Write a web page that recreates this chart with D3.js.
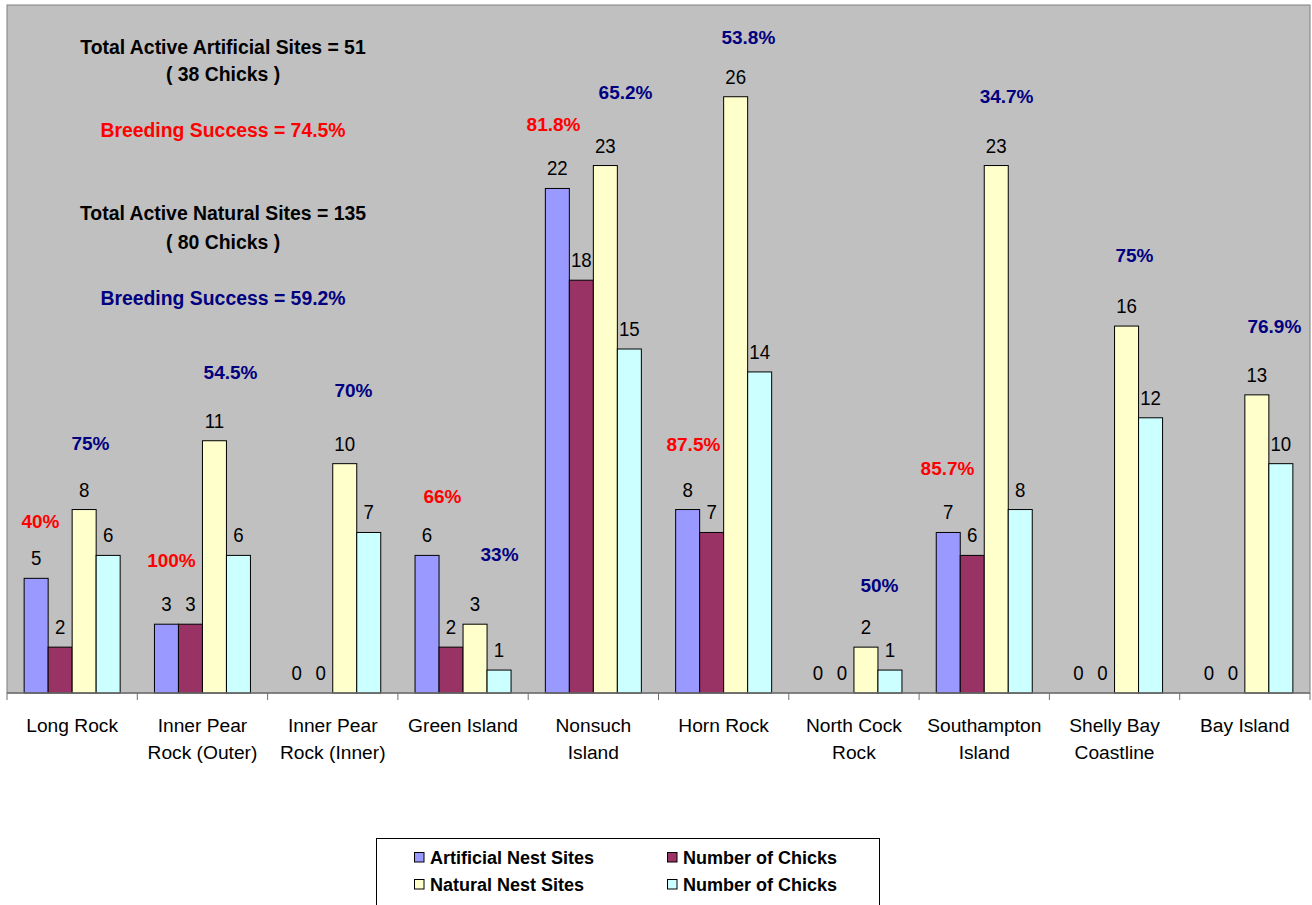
<!DOCTYPE html>
<html>
<head>
<meta charset="utf-8">
<script src="https://cdn.jsdelivr.net/npm/d3@7"></script>
<style>
  html, body { margin: 0; padding: 0; background: #ffffff; }
  svg { display: block; font-family: Arial, "Liberation Sans", sans-serif; }
</style>
</head>
<body>
<svg id="chart" width="1312" height="905"></svg>
<script>
// ---------- data ----------
const categories = [
  ["Long Rock"],
  ["Inner Pear", "Rock (Outer)"],
  ["Inner Pear", "Rock (Inner)"],
  ["Green Island"],
  ["Nonsuch", "Island"],
  ["Horn Rock"],
  ["North Cock", "Rock"],
  ["Southampton", "Island"],
  ["Shelly Bay", "Coastline"],
  ["Bay Island"]
];
const seriesNames = ["Artificial Nest Sites", "Number of Chicks", "Natural Nest Sites", "Number of Chicks"];
const artificialSites = [5, 3, 0, 6, 22, 8, 0, 7, 0, 0];
const artificialChicks = [2, 3, 0, 2, 18, 7, 0, 6, 0, 0];
const naturalSites = [8, 11, 10, 3, 23, 26, 2, 23, 16, 13];
const naturalChicks = [6, 6, 7, 1, 15, 14, 1, 8, 12, 10];
const yMax = 30;

// breeding-success annotations: category index, series slot (bar units), value level, text, group
const pctCategory = [0, 0, 1, 1, 2, 3, 3, 4, 4, 5, 5, 6, 7, 7, 8, 9];
const pctSlot     = [0.18, 2.26, 0.21, 2.67, 2.36, 0.64, 3.02, -0.16, 2.84, 0.24, 2.53, 2.56, -0.03, 2.43, 2.33, 2.73];
const pctLevel    = [7.5, 10.9, 5.8, 14.0, 13.2, 8.6, 6.05, 24.8, 26.2, 10.85, 28.6, 4.7, 9.8, 26.05, 19.1, 16.0];
const pctText     = ["40%", "75%", "100%", "54.5%", "70%", "66%", "33%", "81.8%", "65.2%", "87.5%", "53.8%", "50%", "85.7%", "34.7%", "75%", "76.9%"];
const pctGroup    = ["a", "n", "a", "n", "n", "a", "n", "a", "n", "a", "n", "n", "a", "n", "n", "n"];

const summaryLines = [
  "Total Active Artificial Sites = 51",
  "( 38 Chicks )",
  "Breeding Success = 74.5%",
  "Total Active Natural Sites = 135",
  "( 80 Chicks )",
  "Breeding Success = 59.2%"
];
const summaryGroup = ["k", "k", "a", "k", "k", "n"];

// ---------- styles ----------
const barColors = ["#9999FF", "#993366", "#FFFFCC", "#CCFFFF"];
const groupColor = { a: "#FF0000", n: "#000080", k: "#000000" };

// ---------- layout ----------
const plot = { left: 7, right: 1310, top: 5, bottom: 693 };
const svg = d3.select("#chart");
svg.append("rect").attr("width", 1312).attr("height", 905).attr("fill", "#ffffff");

const x = d3.scaleBand().domain(d3.range(categories.length)).range([plot.left, plot.right]).paddingInner(0).paddingOuter(0);
const bw = x.bandwidth();
const barW = bw * 0.1842;
const groupOff = (bw - 4 * barW) / 2;
const xs = d3.scaleBand().domain(d3.range(4)).range([groupOff, groupOff + 4 * barW]).padding(0);
const y = d3.scaleLinear().domain([0, yMax]).range([plot.bottom, plot.top]);
const slotX = (ci, s) => x(ci) + groupOff + barW * (s + 0.5);

// plot area
svg.append("rect")
  .attr("x", plot.left).attr("y", plot.top)
  .attr("width", plot.right - plot.left).attr("height", plot.bottom - plot.top)
  .attr("fill", "#C0C0C0").attr("stroke", "#808080").attr("stroke-width", 1);

// bars
const seriesValues = [artificialSites, artificialChicks, naturalSites, naturalChicks];
const barData = [];
categories.forEach((c, ci) => seriesValues.forEach((vals, si) => barData.push({ ci, si, v: vals[ci] })));

const g = svg.append("g");
g.selectAll("rect.bar").data(barData.filter(d => d.v > 0)).join("rect")
  .attr("class", "bar")
  .attr("x", d => x(d.ci) + xs(d.si))
  .attr("y", d => y(d.v))
  .attr("width", xs.bandwidth())
  .attr("height", d => y(0) - y(d.v))
  .attr("fill", d => barColors[d.si])
  .attr("stroke", "#000000").attr("stroke-width", 1);

// value labels
g.selectAll("text.val").data(barData).join("text")
  .attr("class", "val")
  .attr("transform", d => `translate(${x(d.ci) + xs(d.si) + xs.bandwidth() / 2},${y(d.v) - 13}) scale(1,1.12)`)
  .attr("text-anchor", "middle")
  .attr("font-size", 18.7)
  .attr("fill", "#000")
  .text(d => d.v);

// x axis line and ticks
const axis = svg.append("g");
axis.append("line")
  .attr("x1", plot.left).attr("x2", plot.right)
  .attr("y1", plot.bottom).attr("y2", plot.bottom)
  .attr("stroke", "#707070").attr("stroke-width", 1.5);
const tickPos = d3.range(categories.length).map(i => x(i)).concat([x(categories.length - 1) + bw]);
axis.selectAll("line.tick").data(tickPos).join("line")
  .attr("class", "tick")
  .attr("x1", d => d).attr("x2", d => d)
  .attr("y1", plot.bottom).attr("y2", plot.bottom + 7)
  .attr("stroke", "#707070").attr("stroke-width", 1);

// category labels
const catG = axis.selectAll("text.cat").data(categories).join("text")
  .attr("class", "cat")
  .attr("text-anchor", "middle")
  .attr("font-size", 19.2)
  .attr("fill", "#000");
catG.each(function (lines, i) {
  const t = d3.select(this);
  lines.forEach((ln, j) => {
    t.append("tspan").attr("x", x(i) + bw / 2).attr("y", 732 + j * 27).text(ln);
  });
});

// percentage annotations
svg.append("g").selectAll("text").data(pctText).join("text")
  .attr("x", (d, i) => slotX(pctCategory[i], pctSlot[i]))
  .attr("y", (d, i) => y(pctLevel[i]) + 7)
  .attr("text-anchor", "middle")
  .attr("font-size", 19)
  .attr("font-weight", "bold")
  .attr("fill", (d, i) => groupColor[pctGroup[i]])
  .text(d => d);

// summary text block
const sumY = [53.5, 81, 137, 220, 249, 305];
svg.append("g").selectAll("text").data(summaryLines).join("text")
  .attr("x", 223)
  .attr("y", (d, i) => sumY[i])
  .attr("text-anchor", "middle")
  .attr("font-size", 19.4)
  .attr("font-weight", "bold")
  .attr("fill", (d, i) => groupColor[summaryGroup[i]])
  .text(d => d);

// legend
const leg = svg.append("g");
leg.append("rect")
  .attr("x", 376.5).attr("y", 838.5).attr("width", 503).attr("height", 90)
  .attr("fill", "#ffffff").attr("stroke", "#000000").attr("stroke-width", 1);
const legX = [414, 667];
const legY = [857, 884];
seriesNames.forEach((name, i) => {
  const cx = legX[i % 2], cy = legY[Math.floor(i / 2)];
  leg.append("rect")
    .attr("x", cx + 0.5).attr("y", cy - 4.5).attr("width", 9.5).attr("height", 9.5)
    .attr("fill", barColors[i]).attr("stroke", "#000").attr("stroke-width", 1);
  leg.append("text")
    .attr("x", cx + 16).attr("y", cy + 6.5)
    .attr("font-size", 18)
    .attr("font-weight", "bold")
    .attr("fill", "#000")
    .text(name);
});
</script>
</body>
</html>
